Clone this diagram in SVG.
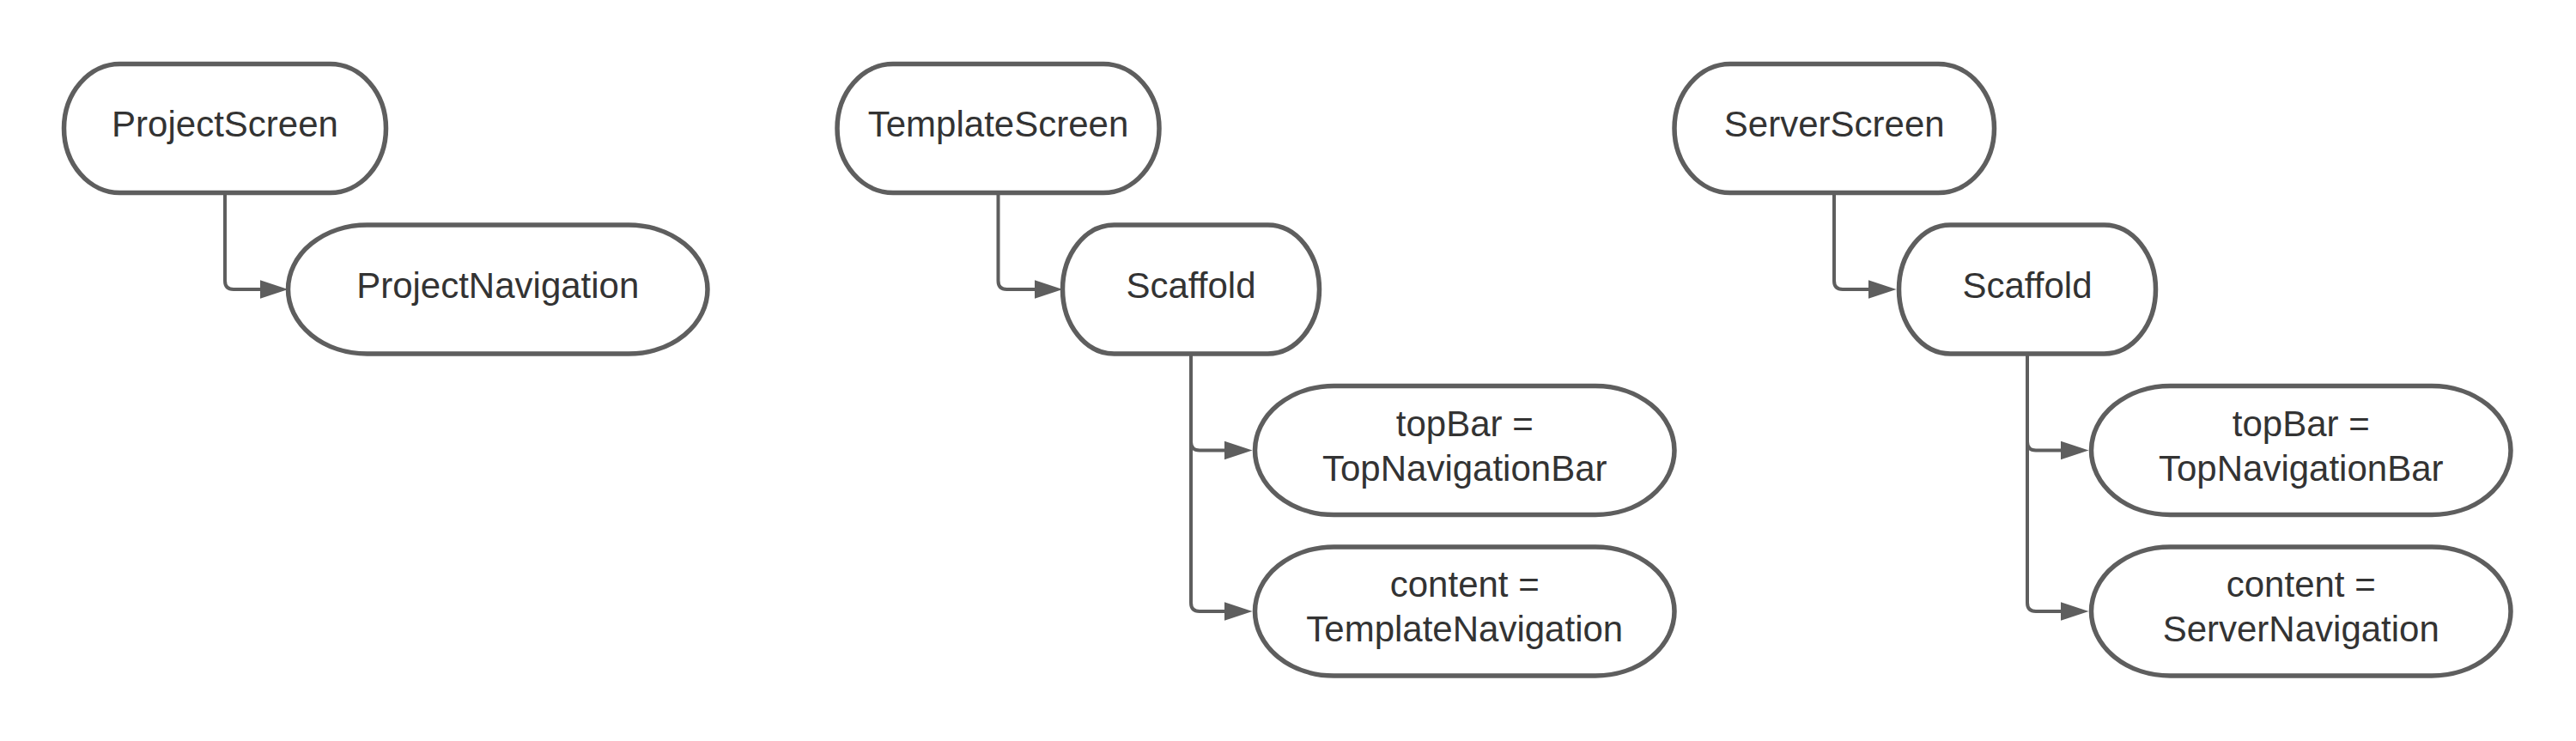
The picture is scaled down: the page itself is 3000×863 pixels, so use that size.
<svg xmlns="http://www.w3.org/2000/svg" width="3000" height="863" viewBox="0 0 3000 863">
  <style>
    .node { fill: #ffffff; stroke: #5e5e5e; stroke-width: 5.5; }
    .lbl { font-family: "Liberation Sans", Arial, sans-serif; font-size: 42px; fill: #333333; text-anchor: middle; }
    .conn { fill: none; stroke: #5e5e5e; stroke-width: 4; marker-end: url(#arrow); }
  </style>
  <defs>
    <marker id="arrow" markerUnits="userSpaceOnUse" markerWidth="34" markerHeight="24" refX="5" refY="11" orient="auto" viewBox="0 0 34 22">
      <path d="M0,0 L33,11 L0,22 Z" fill="#5e5e5e"/>
    </marker>
  </defs>
  <rect width="3000" height="863" fill="#ffffff"/>

  <g id="connectors">
    <path class="conn" d="M262,224.5 V327 Q262,337 272,337 H307.5"/>
    <path class="conn" d="M1162.5,224.5 V327 Q1162.5,337 1172.5,337 H1209.5"/>
    <path class="conn" d="M1387,412 V514.5 Q1387,524.5 1397,524.5 H1430.5"/>
    <path class="conn" d="M1387,412 V702 Q1387,712 1397,712 H1430.5"/>
    <path class="conn" d="M2136,224.5 V327 Q2136,337 2146,337 H2180.5"/>
    <path class="conn" d="M2361,412 V514.5 Q2361,524.5 2371,524.5 H2404.5"/>
    <path class="conn" d="M2361,412 V702 Q2361,712 2371,712 H2404.5"/>
  </g>

  <g id="project-screen">
    <rect class="node" x="74.5" y="74.5" width="375" height="150" rx="65" ry="75"/>
    <text class="lbl" x="262" y="159">ProjectScreen</text>
  </g>
  <g id="project-navigation">
    <rect class="node" x="335.5" y="262" width="488.5" height="150" rx="92" ry="75"/>
    <text class="lbl" x="579.75" y="346.5">ProjectNavigation</text>
  </g>

  <g id="template-screen">
    <rect class="node" x="975" y="74.5" width="375" height="150" rx="65" ry="75"/>
    <text class="lbl" x="1162.5" y="159">TemplateScreen</text>
  </g>
  <g id="template-scaffold">
    <rect class="node" x="1237.5" y="262" width="299" height="150" rx="60" ry="75"/>
    <text class="lbl" x="1387" y="346.5">Scaffold</text>
  </g>
  <g id="template-topbar">
    <rect class="node" x="1461.5" y="449.5" width="488.5" height="150" rx="92" ry="75"/>
    <text class="lbl" x="1705.75" y="507.5">topBar =</text>
    <text class="lbl" x="1705.75" y="559.5">TopNavigationBar</text>
  </g>
  <g id="template-content">
    <rect class="node" x="1461.5" y="637" width="488.5" height="150" rx="92" ry="75"/>
    <text class="lbl" x="1705.75" y="695">content =</text>
    <text class="lbl" x="1705.75" y="747">TemplateNavigation</text>
  </g>

  <g id="server-screen">
    <rect class="node" x="1950" y="74.5" width="372.5" height="150" rx="65" ry="75"/>
    <text class="lbl" x="2136.25" y="159">ServerScreen</text>
  </g>
  <g id="server-scaffold">
    <rect class="node" x="2211.5" y="262" width="299" height="150" rx="60" ry="75"/>
    <text class="lbl" x="2361" y="346.5">Scaffold</text>
  </g>
  <g id="server-topbar">
    <rect class="node" x="2435.5" y="449.5" width="488.5" height="150" rx="92" ry="75"/>
    <text class="lbl" x="2679.75" y="507.5">topBar =</text>
    <text class="lbl" x="2679.75" y="559.5">TopNavigationBar</text>
  </g>
  <g id="server-content">
    <rect class="node" x="2435.5" y="637" width="488.5" height="150" rx="92" ry="75"/>
    <text class="lbl" x="2679.75" y="695">content =</text>
    <text class="lbl" x="2679.75" y="747">ServerNavigation</text>
  </g>
</svg>
